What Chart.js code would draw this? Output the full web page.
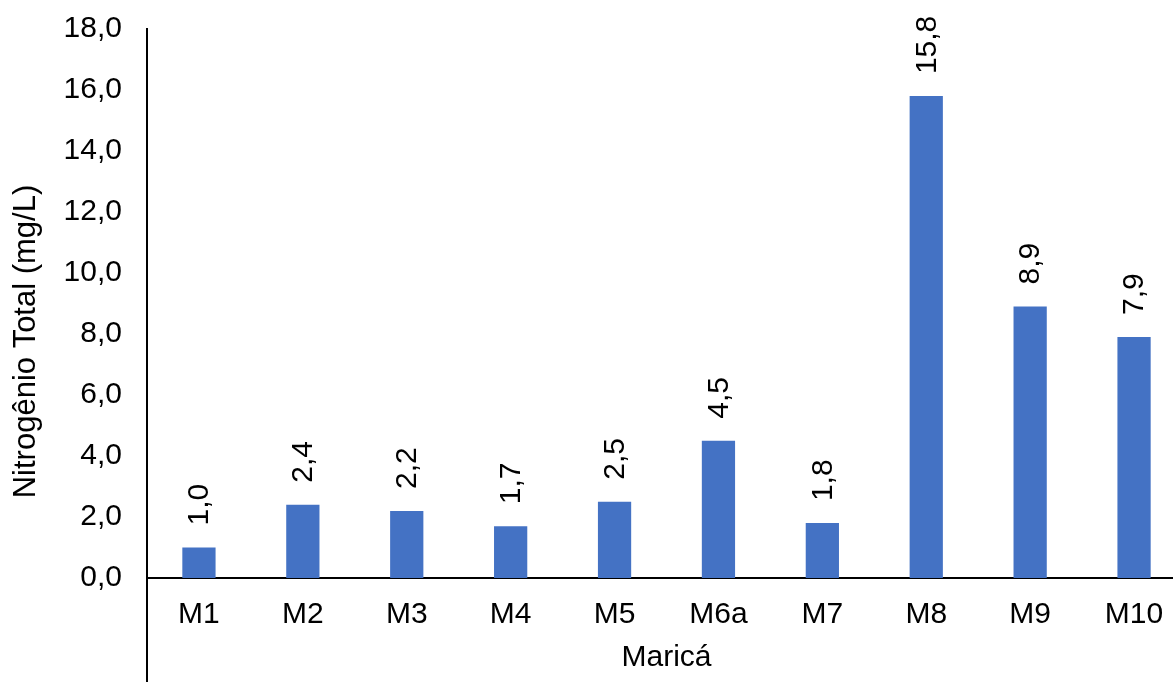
<!DOCTYPE html>
<html>
<head>
<meta charset="utf-8">
<script src="https://cdn.jsdelivr.net/npm/chart.js@4"></script>
<style>
  html, body { margin: 0; padding: 0; background: #fff; overflow: hidden; }
  #wrap { width: 1190px; height: 682px; }
</style>
</head>
<body>
<div id="wrap"><canvas id="c" width="1190" height="682"></canvas></div>
<script>
const categories = ['M1', 'M2', 'M3', 'M4', 'M5', 'M6a', 'M7', 'M8', 'M9', 'M10'];
const values = [1.0, 2.4, 2.2, 1.7, 2.5, 4.5, 1.8, 15.8, 8.9, 7.9];
const yTickLabels = ['0,0', '2,0', '4,0', '6,0', '8,0', '10,0', '12,0', '14,0', '16,0', '18,0'];
const xTitle = 'Maricá';
const yTitle = 'Nitrogênio Total (mg/L)';

const FONT = '"Liberation Sans", Arial, sans-serif';
const FS = 30;

const fmt = v => v.toFixed(1).replace('.', ',');

const labelPlugin = {
  id: 'rotLabels',
  afterDatasetsDraw(chart) {
    const ctx = chart.ctx;
    const meta = chart.getDatasetMeta(0);
    ctx.save();
    ctx.font = FS + 'px ' + FONT;
    ctx.fillStyle = '#000';
    ctx.textAlign = 'left';
    ctx.textBaseline = 'middle';
    meta.data.forEach((bar, i) => {
      ctx.save();
      ctx.translate(bar.x + 1, bar.y - 22);
      ctx.rotate(-Math.PI / 2);
      ctx.fillText(fmt(values[i]), 0, 0);
      ctx.restore();
    });
    ctx.restore();
  }
};

const axisExt = {
  id: 'axisExt',
  afterDraw(chart) {
    const ctx = chart.ctx;
    const a = chart.chartArea;
    ctx.save();
    ctx.strokeStyle = '#000';
    ctx.lineWidth = 2;
    ctx.beginPath();
    ctx.moveTo(a.left, a.bottom);
    ctx.lineTo(a.left, chart.height);
    ctx.stroke();
    // y-axis title, centred a little below the middle of the value axis, as in the reference
    ctx.font = '31px ' + FONT;
    ctx.fillStyle = '#000';
    ctx.textAlign = 'center';
    ctx.textBaseline = 'alphabetic';
    ctx.translate(35, (a.top + chart.height) / 2 - 14);
    ctx.rotate(-Math.PI / 2);
    ctx.fillText(yTitle, 0, 0);
    ctx.restore();
  }
};

new Chart(document.getElementById('c'), {
  type: 'bar',
  data: {
    labels: categories,
    datasets: [{
      data: values,
      backgroundColor: '#4472C4',
      borderWidth: 0,
      categoryPercentage: 1,
      barPercentage: 0.32
    }]
  },
  options: {
    responsive: false,
    animation: false,
    layout: { padding: { top: 29, right: 4, bottom: 0, left: 0 } },
    plugins: { legend: { display: false }, tooltip: { enabled: false } },
    scales: {
      x: {
        grid: { display: false, drawTicks: false },
        border: { display: true, color: '#000', width: 2 },
        ticks: { color: '#000', font: { family: FONT, size: FS }, padding: 19, maxRotation: 0, autoSkip: false },
        title: { display: true, text: xTitle, color: '#000', font: { family: FONT, size: FS }, padding: { top: 0, bottom: 6 } },
        afterFit(s) { s.height = 104; s.paddingLeft = 0; s.paddingRight = 0; }
      },
      y: {
        min: 0, max: 18,
        grid: { display: false, drawTicks: false },
        border: { display: true, color: '#000', width: 2 },
        ticks: {
          stepSize: 2,
          color: '#000',
          font: { family: FONT, size: FS },
          padding: 25,
          callback: (v, i) => yTickLabels[i]
        },
        title: { display: false },
        afterFit(s) { s.width = 147; s.paddingTop = 0; s.paddingBottom = 0; }
      }
    }
  },
  plugins: [labelPlugin, axisExt]
});
</script>
</body>
</html>
